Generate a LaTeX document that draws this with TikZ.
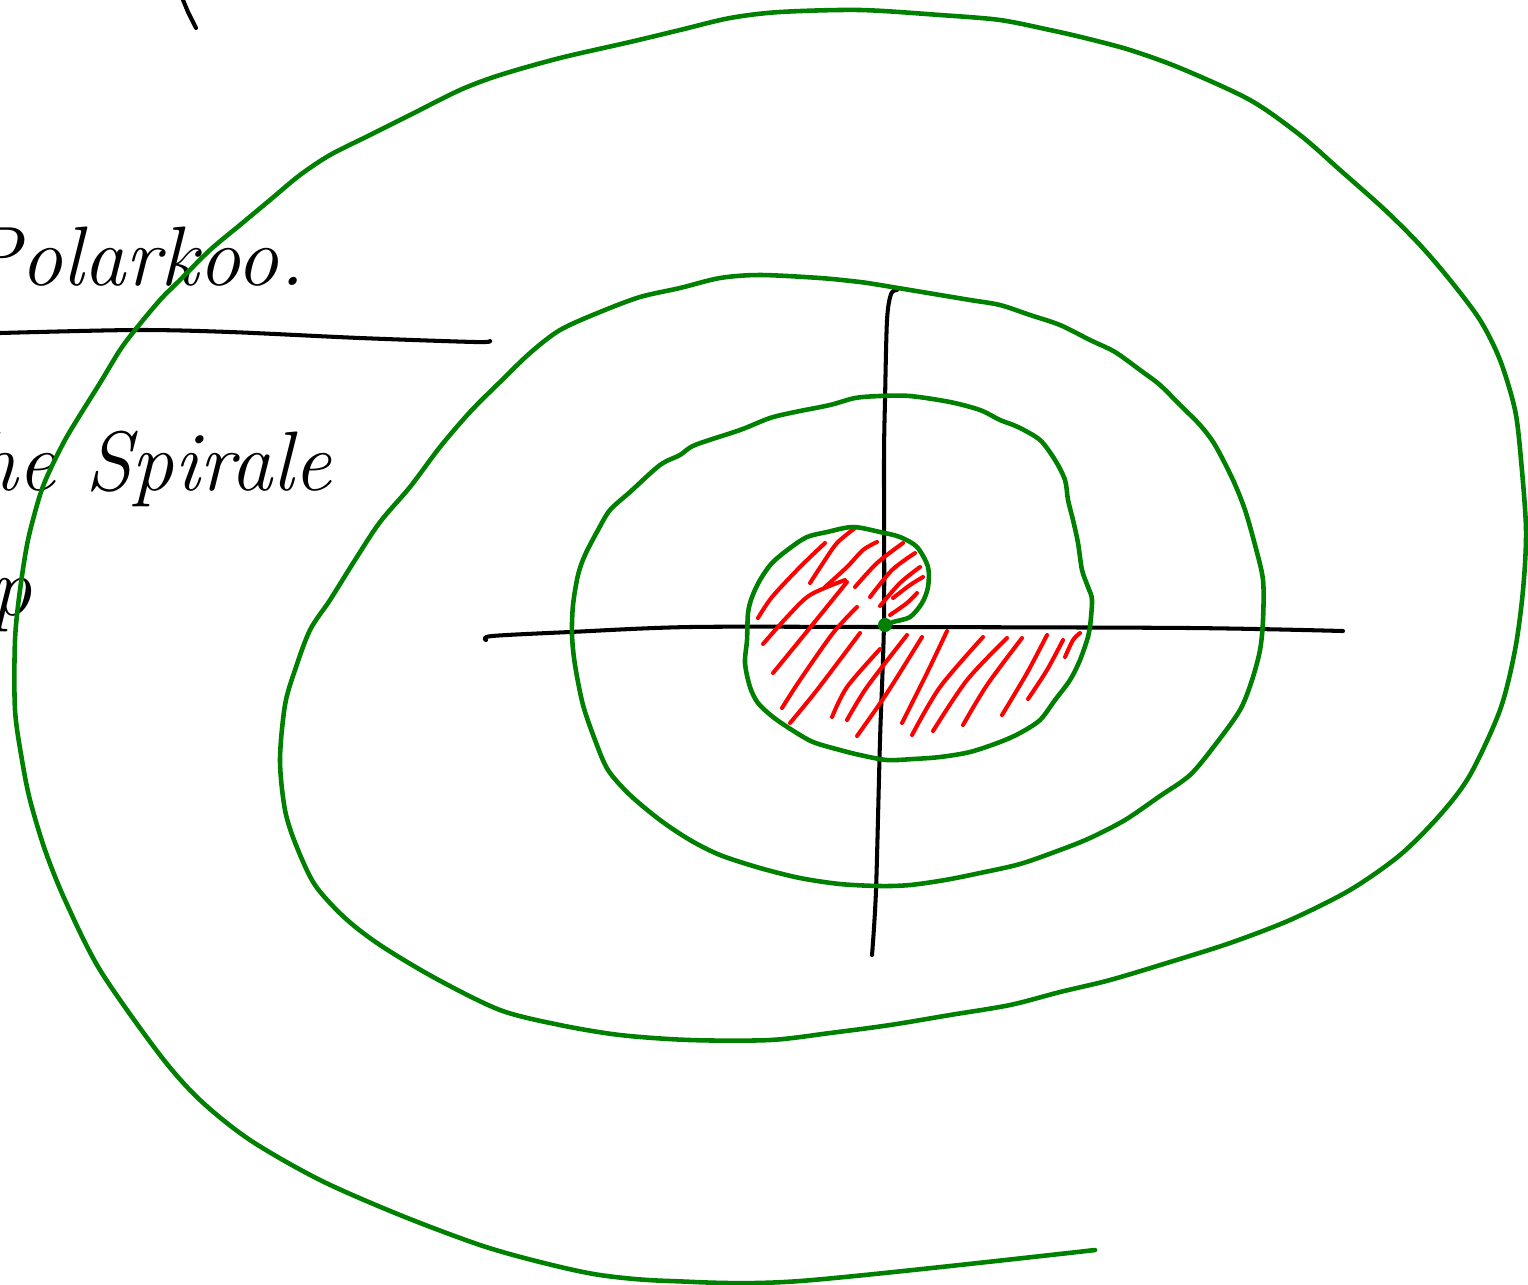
\documentclass[tikz,border=0pt]{standalone}
\usepackage{tikz}
\usetikzlibrary{positioning}
\definecolor{penGreen}{RGB}{0,128,0}
\definecolor{penRed}{RGB}{255,0,0}
\definecolor{penInk}{RGB}{0,0,0}

\begin{document}
\begin{tikzpicture}[x=0.01cm,y=-0.01cm,
  spiral/.style={draw=penGreen,line width=1.3pt,line join=round,line cap=round},
  axis/.style={draw=penInk,line width=1.15pt,line join=round,line cap=round},
  hatch/.style={draw=penRed,line width=1.15pt,line join=round,line cap=round},
  note/.style={font=\itshape\fontsize{24}{28}\selectfont,text=penInk,inner sep=0pt}
]
\useasboundingbox (0,0) rectangle (1528,1284);
% notes on the left
\draw[axis] (183,0) -- (188,12) -- (196,28);
\node[note,anchor=base east] (polar) at (305,285) {Polarkoo.};
\draw[axis] plot[smooth,tension=0.5] coordinates {(0,333) (135,330) (230,332) (360,338) (475,342) (490,341)};
\node[note,anchor=base east] (spirale) at (332,490) {he Spirale};
\node[note,anchor=base east] (sym) at (32,615) {p};
% axes
\draw[axis] plot[smooth,tension=0.5] coordinates {(486,640) (492,636) (570,632) (690,627) (880,627) (1190,628) (1343,631)};
\draw[axis] plot[smooth,tension=0.5] coordinates {(897,290) (891,294) (887,320) (885,400) (884,460) (884,620) (880,740) (876,890) (872,955)};
% hatched area
\draw[hatch] plot[smooth] coordinates {(758,618) (772,597) (800,567) (825,543)};
\draw[hatch] plot[smooth] coordinates {(763,644) (787,617) (810,595) (845,580)};
\draw[hatch] plot[smooth] coordinates {(810,583) (823,563) (837,543) (855,528)};
\draw[hatch] plot[smooth] coordinates {(825,587) (847,567) (863,550) (877,542)};
\draw[hatch] plot[smooth] coordinates {(855,587) (877,563) (903,543)};
\draw[hatch] plot[smooth] coordinates {(870,597) (892,570) (915,553)};
\draw[hatch] plot[smooth] coordinates {(880,606) (900,583) (920,567)};
\draw[hatch] plot[smooth] coordinates {(893,598) (910,585) (923,577)};
\draw[hatch] plot[smooth] coordinates {(890,615) (907,603) (917,593)};
\draw[hatch] plot[smooth] coordinates {(773,673) (800,640) (847,582)};
\draw[hatch] plot[smooth] coordinates {(782,708) (800,680) (833,633) (857,607)};
\draw[hatch] plot[smooth] coordinates {(790,723) (817,690) (860,633)};
\draw[hatch] plot[smooth] coordinates {(832,717) (847,687) (880,649)};
\draw[hatch] plot[smooth] coordinates {(847,720) (867,687) (907,635)};
\draw[hatch] plot[smooth] coordinates {(857,736) (887,693) (922,637)};
\draw[hatch] plot[smooth] coordinates {(902,723) (927,673) (947,631)};
\draw[hatch] plot[smooth] coordinates {(912,735) (940,687) (983,637)};
\draw[hatch] plot[smooth] coordinates {(933,731) (967,680) (1007,638)};
\draw[hatch] plot[smooth] coordinates {(963,725) (987,685) (1022,638)};
\draw[hatch] plot[smooth] coordinates {(1002,715) (1027,673) (1047,635)};
\draw[hatch] plot[smooth] coordinates {(1028,699) (1047,670) (1063,640)};
\draw[hatch] plot[smooth] coordinates {(1065,657) (1073,640) (1080,633)};
% spiral
\draw[spiral] plot[smooth,tension=0.5] coordinates {
  (884,626) (893,622) (910,617) (922,603) (928,587) (928,567) (917,547) (900,537)
  (880,532) (853,527) (827,532) (807,537) (790,548) (772,563) (760,580) (752,597)
  (748,613) (747,640) (745,663) (750,687) (758,703) (773,717) (792,730) (813,742)
  (840,750) (860,755) (887,760) (913,759) (940,757) (970,752) (1000,742) (1020,733)
  (1040,720) (1055,700) (1070,680) (1080,660) (1088,637) (1090,627) (1092,600)
  (1088,587) (1082,570) (1078,543) (1073,520) (1068,500) (1065,480) (1055,460)
  (1040,440) (1018,427) (1000,420) (980,410) (950,402) (910,396) (880,396)
  (855,398) (830,405) (795,412) (770,418) (740,430) (695,445) (680,455) (660,465)
  (630,492) (610,510) (598,530) (585,555) (578,575) (573,605) (572,635) (575,665)
  (583,705) (595,740) (608,770) (630,795) (660,820) (690,840) (720,855) (760,868)
  (800,878) (840,884) (880,886) (910,885) (945,880) (980,873) (1020,864) (1060,850)
  (1090,838) (1125,820) (1160,796) (1190,775) (1215,745) (1240,710) (1252,680)
  (1260,650) (1263,620) (1263,580) (1255,545) (1245,510) (1233,480) (1215,445)
  (1200,425) (1180,405) (1160,385) (1140,370) (1115,352) (1090,340) (1060,325)
  (1030,315) (1000,305) (970,300) (940,295) (910,290) (880,285) (860,282) (820,278)
  (760,275) (720,278) (680,288) (640,297) (600,312) (560,330) (530,353) (500,382)
  (470,412) (440,447) (410,487) (380,522) (355,560) (330,600) (310,630) (295,670)
  (285,705) (280,760) (285,810) (296,845) (315,885) (345,918) (380,945) (435,978)
  (500,1010) (560,1025) (620,1035) (690,1040) (770,1040) (830,1033) (890,1025)
  (950,1015) (1010,1005) (1060,992) (1110,980) (1170,962) (1230,943) (1290,920)
  (1350,890) (1400,855) (1440,815) (1470,775) (1500,710) (1515,650) (1523,590)
  (1526,530) (1521,460) (1515,410) (1500,360) (1480,320) (1450,280) (1420,245)
  (1385,210) (1340,170) (1300,135) (1250,100) (1180,68) (1130,50) (1085,38)
  (1050,30) (1000,20) (940,15) (860,10) (780,12) (730,18) (680,30) (630,42)
  (560,58) (500,75) (460,90) (410,115) (370,135) (330,155) (300,175) (270,200)
  (240,225) (210,250) (180,280) (160,300) (135,330) (120,350) (100,383) (80,415)
  (65,440) (50,470) (40,495) (28,540) (20,590) (15,640) (15,710) (22,760) (30,800)
  (45,850) (65,900) (100,970) (160,1055) (200,1100) (250,1140) (320,1180)
  (400,1215) (480,1245) (540,1262) (600,1275) (670,1281) (800,1281) (1095,1250)};
\fill[penGreen] (885,625) circle (2pt);
\end{tikzpicture}
\end{document}
